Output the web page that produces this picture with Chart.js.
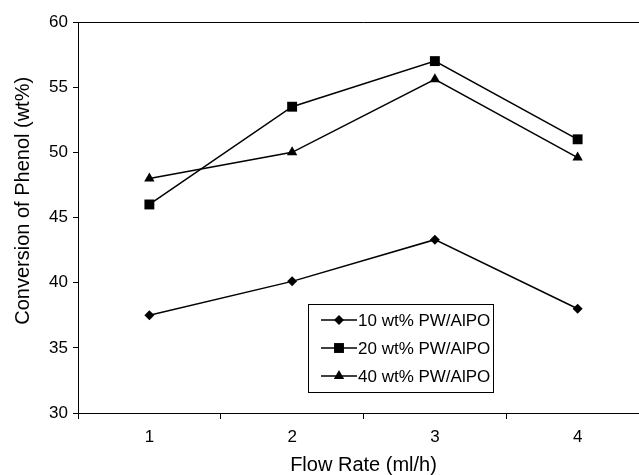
<!DOCTYPE html>
<html>
<head>
<meta charset="utf-8">
<script src="https://cdn.jsdelivr.net/npm/chart.js@4.4.1/dist/chart.umd.min.js"></script>
<style>
    html, body { margin: 0; padding: 0; background: #fff; overflow: hidden; }
    canvas { display: block; }
</style>
</head>
<body>
<canvas id="chart" width="660" height="475"></canvas>
<script>
// --- Data ---
const flowRates = ['1', '2', '3', '4'];
const pw10 = [37.5, 40.1, 43.3, 38.0];
const pw20 = [46.0, 53.5, 57.0, 51.0];
const pw40 = [48.0, 50.0, 55.6, 49.6];
const seriesNames = ['10 wt% PW/AlPO', '20 wt% PW/AlPO', '40 wt% PW/AlPO'];
const yMin = 30, yMax = 60, yStep = 5;

const FONT = "'Liberation Sans', Arial, Helvetica, sans-serif";

// Top + right edges of the plot frame (axes draw left + bottom)
const framePlugin = {
    id: 'frame',
    afterDraw(chart) {
        const { ctx, chartArea: a } = chart;
        ctx.save();
        ctx.strokeStyle = '#000';
        ctx.lineWidth = 1;
        ctx.beginPath();
        ctx.moveTo(Math.round(a.left), Math.round(a.top) + 0.5);
        ctx.lineTo(Math.round(a.right) + 0.5, Math.round(a.top) + 0.5);
        ctx.lineTo(Math.round(a.right) + 0.5, Math.round(a.bottom));
        ctx.stroke();
        ctx.restore();
    }
};

// Boxed legend with line + marker samples, placed inside the plot
const boxLegend = {
    id: 'boxLegend',
    afterDraw(chart, args, opts) {
        const ctx = chart.ctx;
        ctx.save();
        ctx.fillStyle = '#fff';
        ctx.fillRect(opts.x, opts.y, opts.w, opts.h);
        ctx.strokeStyle = '#000';
        ctx.lineWidth = 1;
        ctx.strokeRect(opts.x + 0.5, opts.y + 0.5, opts.w, opts.h);

        ctx.font = opts.font;
        ctx.textBaseline = 'middle';
        ctx.textAlign = 'left';
        chart.data.datasets.forEach((ds, i) => {
            const y = opts.y + opts.firstRow + i * opts.rowGap;
            const x0 = opts.x + opts.lineStart;
            ctx.beginPath();
            ctx.moveTo(x0, y);
            ctx.lineTo(x0 + opts.lineLen, y);
            ctx.lineWidth = ds.borderWidth;
            ctx.strokeStyle = ds.borderColor;
            ctx.stroke();
            ctx.fillStyle = ds.pointBackgroundColor;
            Chart.helpers.drawPoint(ctx, {
                pointStyle: ds.pointStyle, radius: ds.pointRadius, rotation: 0, borderWidth: 0
            }, x0 + opts.lineLen / 2, y);
            ctx.fillStyle = '#000';
            ctx.fillText(ds.label, x0 + opts.lineLen + 1, y + 1);
        });
        ctx.restore();
    }
};

const makeSeries = (label, data, style, radius) => ({
    label,
    data,
    borderColor: '#000',
    borderWidth: 1.5,
    pointStyle: style,
    pointRadius: radius,
    pointHoverRadius: radius,
    pointBackgroundColor: '#000',
    pointBorderColor: '#000',
    pointBorderWidth: 0,
    tension: 0,
    fill: false
});

const ctx = document.getElementById('chart').getContext('2d');
new Chart(ctx, {
    type: 'line',
    data: {
        labels: flowRates,
        datasets: [
            makeSeries(seriesNames[0], pw10, 'rectRot', 5),
            makeSeries(seriesNames[1], pw20, 'rect', 7),
            makeSeries(seriesNames[2], pw40, 'triangle', 6)
        ]
    },
    options: {
        responsive: false,
        animation: false,
        devicePixelRatio: 1,
        layout: { padding: { top: 22, right: 11, left: 0, bottom: 0 } },
        plugins: {
            legend: { display: false },
            tooltip: { enabled: false },
            boxLegend: {
                x: 308, y: 304, w: 185, h: 88,
                firstRow: 16, rowGap: 28,
                lineStart: 13, lineLen: 36,
                font: '17px ' + FONT
            }
        },
        scales: {
            x: {
                offset: true,
                grid: {
                    offset: true,
                    drawOnChartArea: false,
                    drawTicks: true,
                    tickLength: 6,
                    color: '#000'
                },
                border: { color: '#000', width: 1 },
                ticks: { color: '#000', font: { family: FONT, size: 17 }, padding: 8, maxRotation: 0 },
                title: {
                    display: true,
                    text: 'Flow Rate (ml/h)',
                    color: '#000',
                    font: { family: FONT, size: 20, lineHeight: 1 },
                    padding: { top: 0, bottom: 0 }
                },
                afterFit: (scale) => { scale.height = 62; }
            },
            y: {
                min: yMin,
                max: yMax,
                grid: {
                    drawOnChartArea: false,
                    drawTicks: true,
                    tickLength: 5,
                    color: '#000'
                },
                border: { color: '#000', width: 1 },
                ticks: { stepSize: yStep, color: '#000', font: { family: FONT, size: 17 }, padding: 5 },
                title: {
                    display: true,
                    text: '      Conversion of Phenol (wt%)',
                    color: '#000',
                    font: { family: FONT, size: 20, lineHeight: 1.2 },
                    padding: { top: 11, bottom: 0 }
                },
                afterFit: (scale) => { scale.width = 78; }
            }
        }
    },
    plugins: [framePlugin, boxLegend]
});
</script>
</body>
</html>
